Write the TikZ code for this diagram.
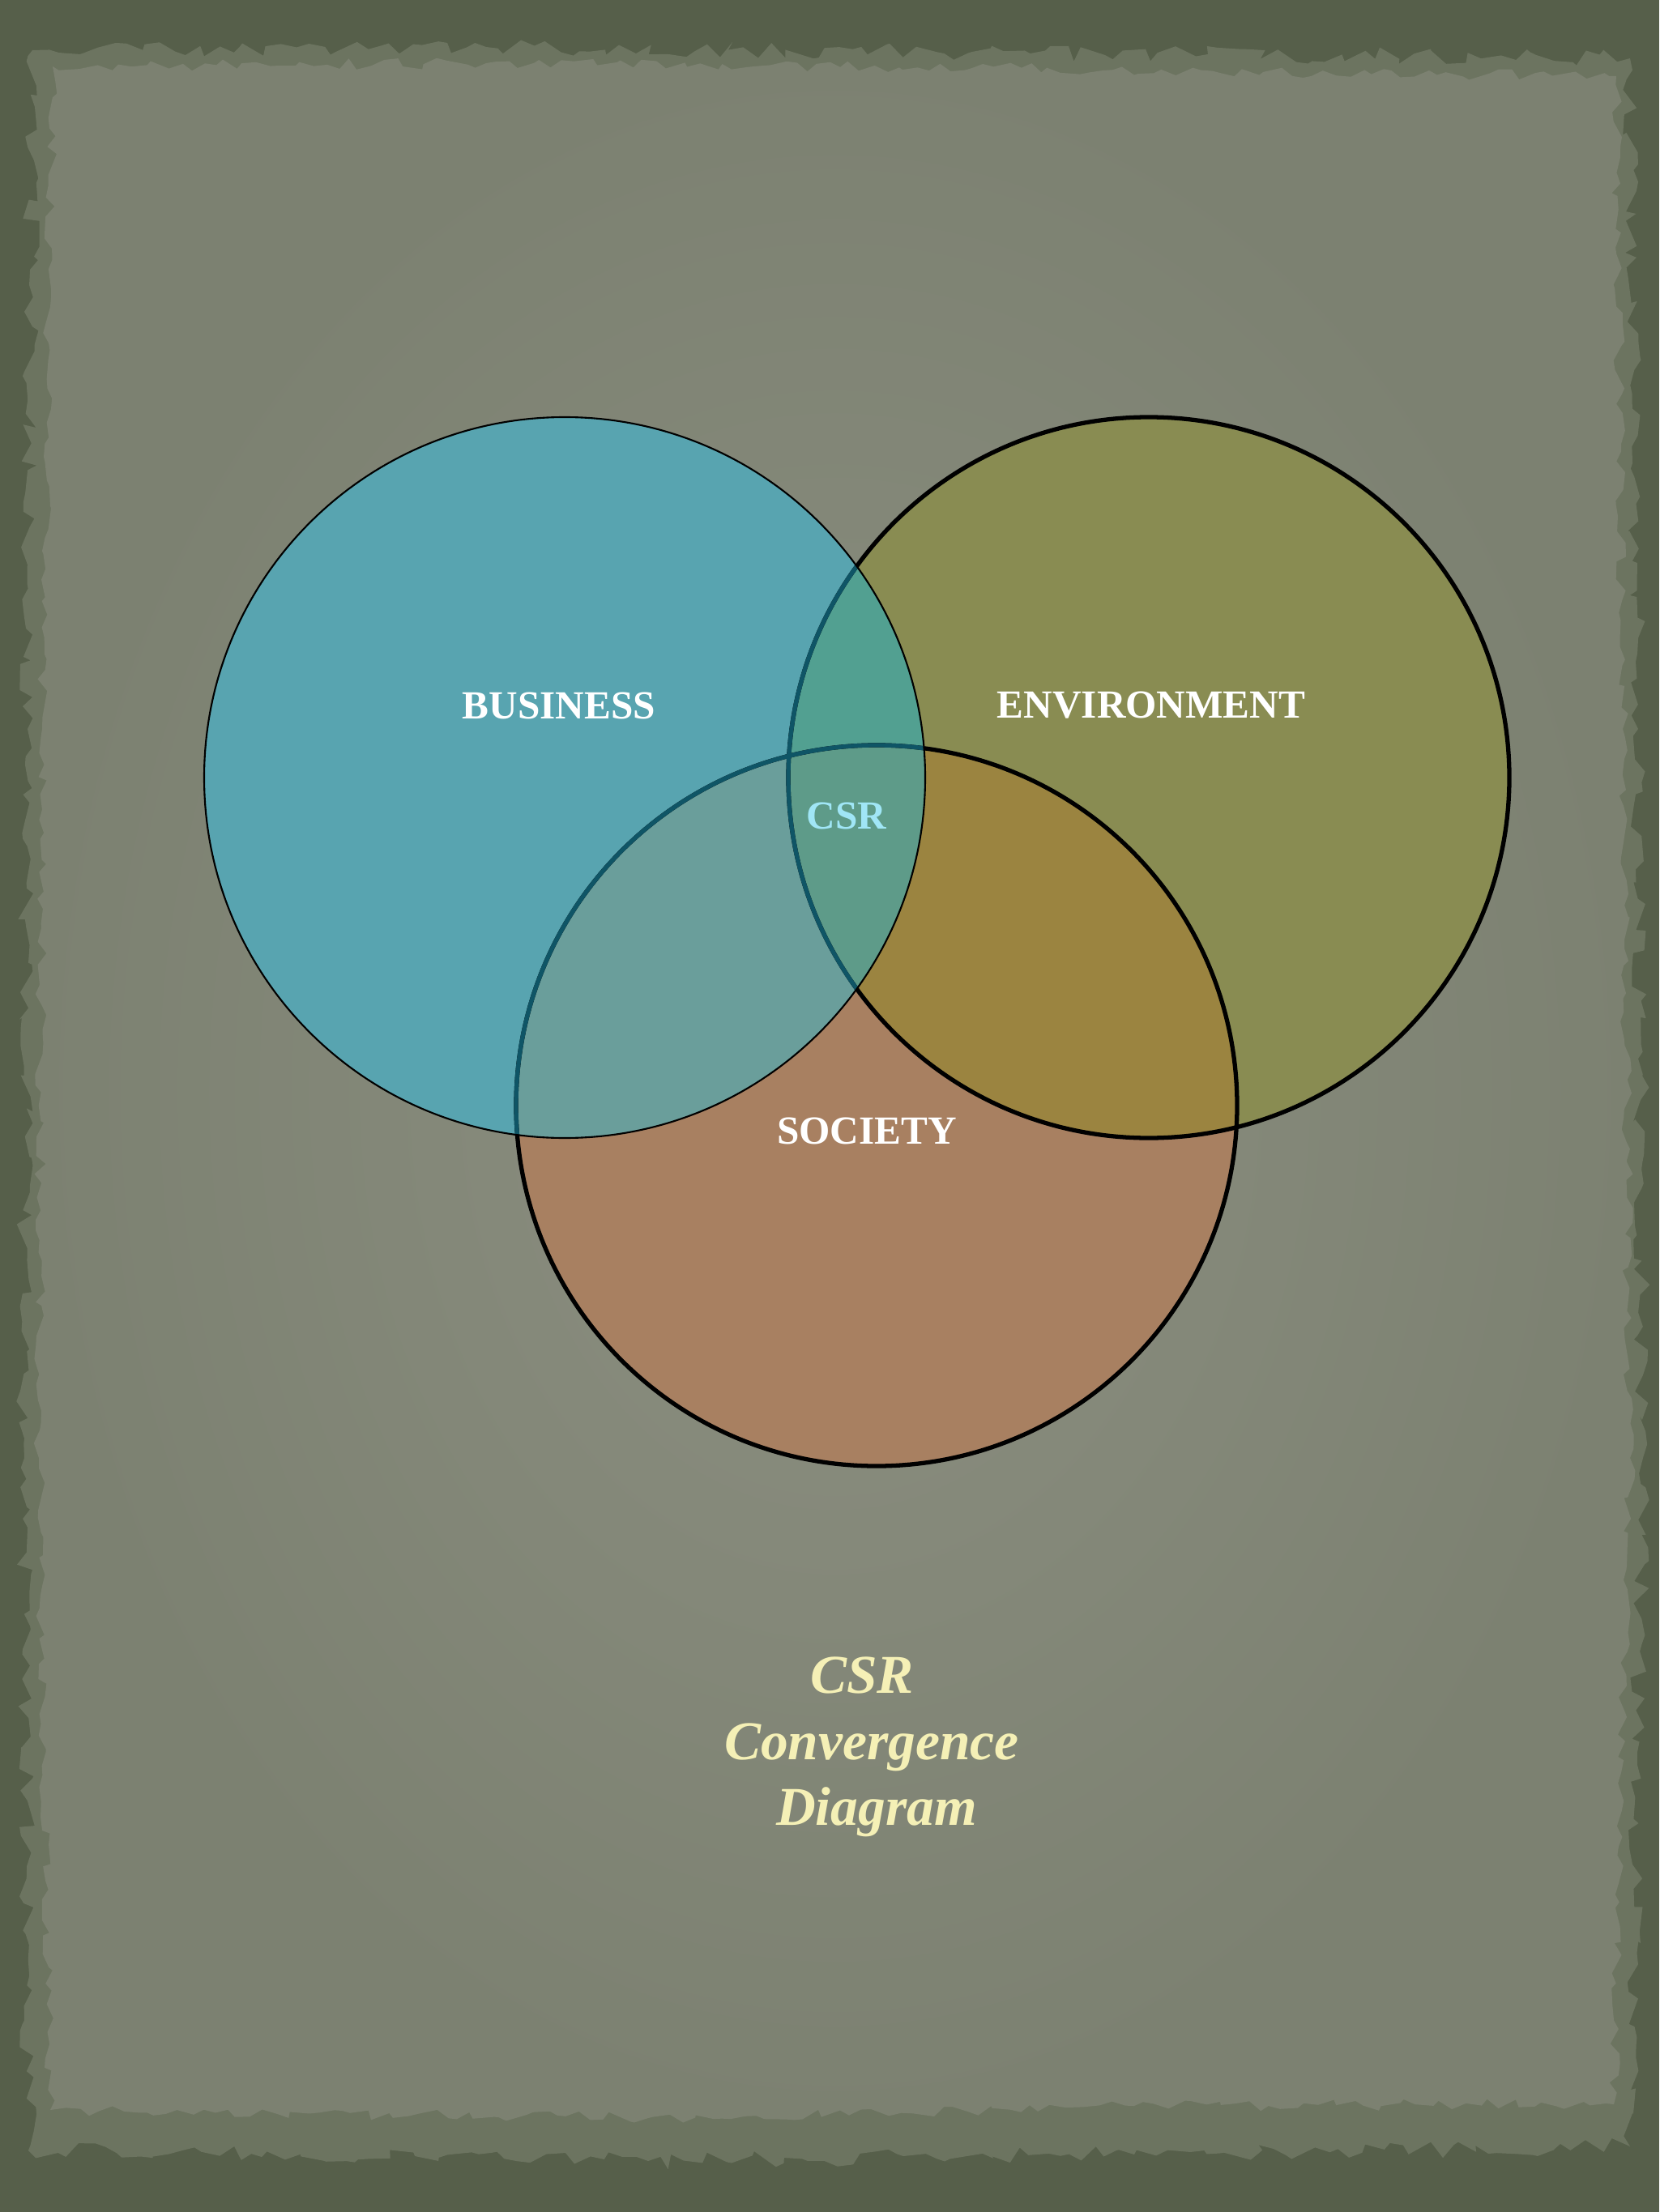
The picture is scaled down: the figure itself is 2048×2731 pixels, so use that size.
\documentclass[tikz,border=0pt]{standalone}
\usepackage{fontspec}
\setmainfont{Liberation Serif}
\usetikzlibrary{decorations.pathmorphing}
\definecolor{frame}{RGB}{86,95,74}
\definecolor{fringe}{RGB}{108,116,96}
\definecolor{paperin}{RGB}{140,143,129}
\definecolor{paperout}{RGB}{124,129,113}
\definecolor{cB}{RGB}{88,164,176}
\definecolor{cE}{RGB}{137,140,82}
\definecolor{cS}{RGB}{168,128,97}
\definecolor{cBE}{RGB}{82,160,145}
\definecolor{cBS}{RGB}{106,158,155}
\definecolor{cES}{RGB}{155,132,64}
\definecolor{cBES}{RGB}{94,155,137}
\definecolor{tealline}{RGB}{15,85,102}
\definecolor{csrtext}{RGB}{160,230,246}
\definecolor{titletext}{RGB}{245,240,182}
\tikzset{
  thickring/.style={line width=1.5pt},
  thinring/.style={line width=0.6pt, draw=black},
  lbl/.style={text=white, font=\bfseries\fontsize{14}{16}\selectfont, inner sep=0pt},
  ttl/.style={text=titletext, font=\bfseries\itshape\fontsize{19.2}{22}\selectfont, inner sep=0pt, anchor=base}
}
\begin{document}
\begin{tikzpicture}[x=0.01cm,y=-0.01cm]
\pgfmathsetseed{11}
\useasboundingbox (0,0) rectangle (2048,2731);
% frame and torn paper
\fill[frame] (0,0) rectangle (2048,2731);
\fill[fringe, decorate, decoration={random steps, segment length=4pt, amplitude=3pt}]
  (40,62) -- (600,58) -- (1200,64) -- (2012,72) -- (2022,900) -- (2028,1800) -- (2012,2650)
  -- (1400,2660) -- (800,2668) -- (35,2655) -- (30,1800) -- (34,900) -- cycle;
\shade[inner color=paperin, outer color=paperout, decorate, decoration={random steps, segment length=4pt, amplitude=2pt}]
  (65,82) -- (600,78) -- (1200,84) -- (1995,94) -- (2003,900) -- (2012,1800) -- (1992,2598)
  -- (1400,2600) -- (800,2615) -- (62,2605) -- (48,1800) -- (52,900) -- cycle;
% circle centres
\coordinate (cb) at (697,960);
\coordinate (ce) at (1418,960);
\coordinate (cs) at (1082,1365);
% region fills
\fill[cB] (cb) circle [radius=445];
\fill[cE] (ce) circle [radius=445];
\fill[cS] (cs) circle [radius=445];
\begin{scope}\clip (cb) circle [radius=445]; \fill[cBE] (ce) circle [radius=445]; \end{scope}
\begin{scope}\clip (cb) circle [radius=445]; \fill[cBS] (cs) circle [radius=445]; \end{scope}
\begin{scope}\clip (ce) circle [radius=445]; \fill[cES] (cs) circle [radius=445]; \end{scope}
\begin{scope}\clip (cb) circle [radius=445]; \clip (ce) circle [radius=445]; \fill[cBES] (cs) circle [radius=445]; \end{scope}
% outlines
\draw[thickring, black] (ce) circle [radius=445];
\draw[thickring, black] (cs) circle [radius=445];
\begin{scope}\clip (cb) circle [radius=445];
  \draw[thickring, tealline] (ce) circle [radius=445];
  \draw[thickring, tealline] (cs) circle [radius=445];
\end{scope}
\draw[thinring] (cb) circle [radius=445];
% labels
\node[lbl] (business) at (690,871) {BUSINESS};
\node[lbl] (environment) at (1421,871) {ENVIRONMENT};
\node[lbl, text=csrtext] (csr) at (1045,1007) {CSR};
\node[lbl] (society) at (1070,1396) {SOCIETY};
% title
\node[ttl] (t1) at (1064,2090) {CSR};
\node[ttl] (t2) at (1076,2172) {Convergence};
\node[ttl] (t3) at (1082,2253) {Diagram};
\end{tikzpicture}
\end{document}
